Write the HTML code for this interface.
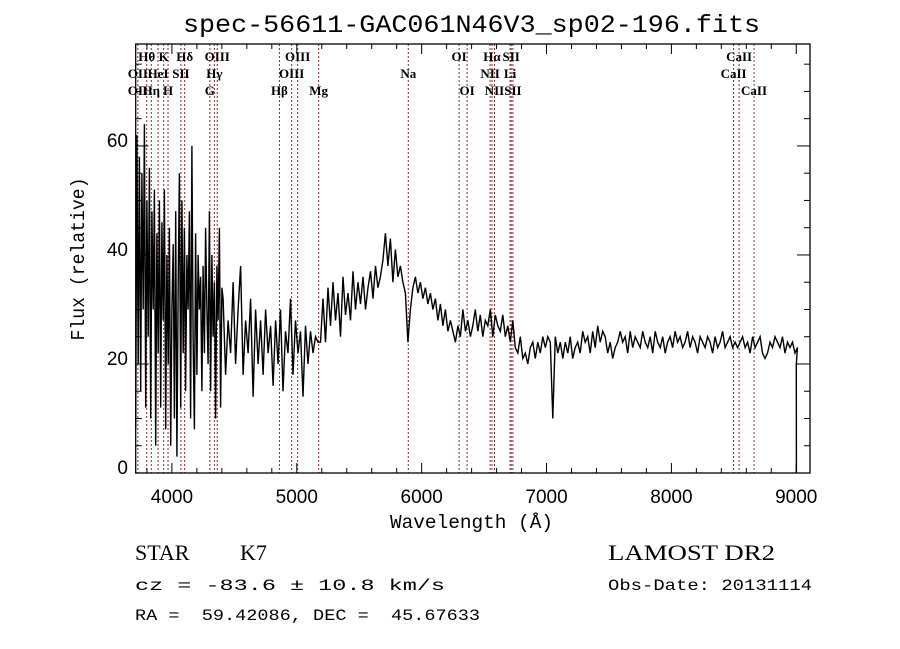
<!DOCTYPE html>
<html><head><meta charset="utf-8"><style>
body{margin:0;background:#fff;}
svg{display:block;}
</style></head><body>
<svg id="chart" width="900" height="649" viewBox="0 0 900 649" xmlns="http://www.w3.org/2000/svg">
<rect x="0" y="0" width="900" height="649" fill="#fff"/>
<text x="183" y="32" font-family="Liberation Mono, monospace" font-size="25" textLength="577" lengthAdjust="spacingAndGlyphs">spec-56611-GAC061N46V3_sp02-196.fits</text>
<g id="lines"></g>
<g id="spec"></g>
<g id="axes"></g>
<text x="390" y="528" font-family="Liberation Mono, monospace" font-size="19" textLength="163" lengthAdjust="spacingAndGlyphs">Wavelength (Å)</text>
<text x="84" y="259" font-family="Liberation Mono, monospace" font-size="19" text-anchor="middle" textLength="163" lengthAdjust="spacingAndGlyphs" transform="rotate(-90 84 259)">Flux (relative)</text>
<text x="135" y="560" font-family="Liberation Serif, serif" font-size="22">STAR</text>
<text x="240" y="560" font-family="Liberation Serif, serif" font-size="22">K7</text>
<text x="608" y="560" font-family="Liberation Serif, serif" font-size="22" textLength="167" lengthAdjust="spacingAndGlyphs">LAMOST DR2</text>
<text x="135" y="590" font-family="Liberation Mono, monospace" font-size="16" textLength="310" lengthAdjust="spacingAndGlyphs">cz = -83.6 ± 10.8 km/s</text>
<text x="608" y="590" font-family="Liberation Mono, monospace" font-size="16" textLength="204" lengthAdjust="spacingAndGlyphs">Obs-Date: 20131114</text>
<text x="135" y="620" font-family="Liberation Mono, monospace" font-size="16" xml:space="preserve" textLength="345" lengthAdjust="spacingAndGlyphs">RA =  59.42086, DEC =  45.67633</text>
</svg>
<script>
const blueStart = 3710;
const blueStep = 10;
const blueFlux = [8,62,20,58,15,55,30,64,12,50,25,56,10,48,30,52,5,44,22,50,
12,46,28,52,8,40,20,45,5,30,42,10,48,3,35,55,12,50,22,45,
15,40,30,48,10,60,25,8,44,18,40,30,36,15,38,22,45,30,20,48,
15,40,25,35,10,38,28,45,12,34];
const redStart = 4410;
const redStep = 20;
const redFlux = [32,18,28,22,35,
20,30,38,18,28,22,32,14,30,20,28,18,30,22,27,16,28,20,30,15,
26,22,32,18,28,22,26,14,27,20,26,22,25,24,24,32,24,34,27,35,
28,33,25,36,29,33,28,37,30,35,31,36,30,34,37,32,38,34,36,39,
44,38,43,35,41,36,38,35,33,24,30,34,36,33,35,32,34,31,33,30,
32,28,31,27,30,26,28,26,24,27,25,30,26,28,25,27,30,26,29,25,
28,27,30,25,29,27,26,29,25,27,24,28,23,22,25,21,22,20,23,24,
21,24,22,25,23,25,24,10,25,22,24,21,24,22,25,21,23,24,22,26,
24,25,22,26,23,27,24,26,25,22,24,21,23,24,26,24,25,22,26,23,
25,24,23,26,24,23,25,22,26,24,23,25,22,24,25,23,26,24,25,23,
24,26,23,25,24,22,25,24,23,25,24,22,25,23,24,26,23,24,25,23,
24,23,24,25,23,24,22,25,23,24,25,22,21,22,24,23,25,24,23,25,
22,24,23,24,22,23];
const endWaves = [9000,9001];
const endFlux = [20,0];
const lineWaves = [3727,3798,3835,3889,3934,3969,4072,4102,4304,4340,4363,4861,4959,5007,5175,5893,6300,6364,6548,6563,6583,6708,6717,6731,8498,8542,8662];
const lineLabels = ["Hθ","K","Hδ","OIII","OIII","OI","Hα","SII","CaII","OII","HeI","SII","Hγ","OIII","Na","NII","Li","CaII","OII","Hη","H","G","Hβ","Mg","OI","NII","SII","CaII"];
const labelWaves = [3798,3934,4102,4363,5007,6300,6563,6717,8542,3727,3889,4072,4340,4959,5893,6548,6708,8498,3727,3835,3969,4304,4861,5175,6364,6583,6731,8662];
const labelRows = [0,0,0,0,0,0,0,0,0,1,1,1,1,1,1,1,1,1,2,2,2,2,2,2,2,2,2,2];
const xTicks = [4000,5000,6000,7000,8000,9000];
const yTicks = [0,20,40,60];

const X0=135.7,X1=810,Y0=473,Y1=44,WMIN=3710,WMAX=9110,FMAX=78.7;
const xs=w=>X0+(w-WMIN)/(WMAX-WMIN)*(X1-X0);
const ys=f=>Y0-f/FMAX*(Y0-Y1);
const NS="http://www.w3.org/2000/svg";
function mk(tag,attrs,parent){const e=document.createElementNS(NS,tag);for(const k in attrs)e.setAttribute(k,attrs[k]);parent.appendChild(e);return e;}

const gl=document.getElementById('lines');
lineWaves.forEach(w=>{
  const l=mk('line',{x1:xs(w),x2:xs(w),y1:Y1,y2:Y0,stroke:'#8b2a2a','stroke-width':1,'stroke-dasharray':'2,2'},gl);
  
  
});
const rowY=[61,78,95];
labelWaves.forEach((w,i)=>{
  const t=mk('text',{x:xs(w),y:rowY[labelRows[i]],'font-family':'Liberation Serif, serif','font-size':13,'font-weight':'bold','text-anchor':'middle'},gl);
  t.textContent=lineLabels[i];
  
  
});

const gs=document.getElementById('spec');
const pts=[];
blueFlux.forEach((f,i)=>pts.push([blueStart+i*blueStep,f]));
redFlux.forEach((f,i)=>pts.push([redStart+i*redStep,f]));
endFlux.forEach((f,i)=>pts.push([endWaves[i],f]));
let d='';
pts.forEach((p,i)=>{d+=(i?'L':'M')+xs(p[0]).toFixed(1)+','+ys(p[1]).toFixed(1);});
const p=mk('path',{d:d,fill:'none',stroke:'#000','stroke-width':1.4},gs);



const ga=document.getElementById('axes');
const fr=mk('rect',{x:X0,y:Y1,width:X1-X0,height:Y0-Y1,fill:'none',stroke:'#000','stroke-width':1.3},ga);


for(let w=3800;w<=9100;w+=200){
  const big=w%1000===0,L=big?10:5;
  mk('line',{x1:xs(w),x2:xs(w),y1:Y0,y2:Y0-L,stroke:'#000','stroke-width':1},ga);
  mk('line',{x1:xs(w),x2:xs(w),y1:Y1,y2:Y1+L,stroke:'#000','stroke-width':1},ga);
}
for(let f=0;f<=75;f+=5){
  const big=f%20===0,L=big?13:6;
  mk('line',{x1:X0,x2:X0+L,y1:ys(f),y2:ys(f),stroke:'#000','stroke-width':1},ga);
  mk('line',{x1:X1,x2:X1-L,y1:ys(f),y2:ys(f),stroke:'#000','stroke-width':1},ga);
}
xTicks.forEach(w=>{
  const t=mk('text',{x:xs(w),y:503,'font-family':'Liberation Sans, sans-serif','font-size':19,'text-anchor':'middle'},ga);
  t.textContent=w;
  
  
});
yTicks.forEach(f=>{
  const t=mk('text',{x:128,y:ys(f)+1,'font-family':'Liberation Sans, sans-serif','font-size':19,'text-anchor':'end'},ga);
  t.textContent=f;
  
  
});
</script>
</body></html>
